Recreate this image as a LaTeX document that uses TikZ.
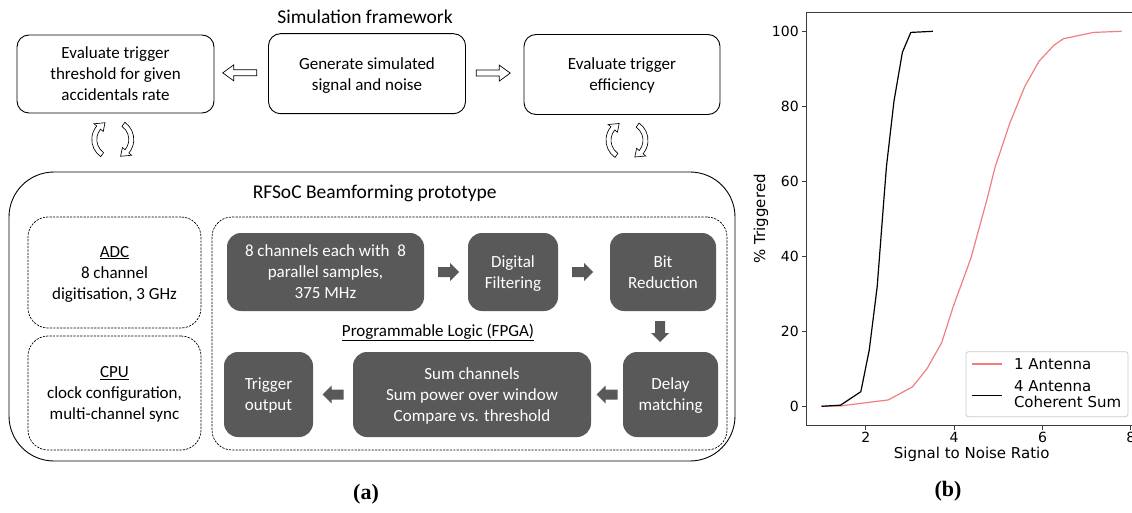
\documentclass[tikz,border=0pt]{standalone}
\usepackage{fontspec}
\setmainfont{Carlito}
\newfontfamily\plotfont{DejaVu Sans}
\newfontfamily\capfont{Liberation Serif}
\usetikzlibrary{calc}
\definecolor{boxdark}{RGB}{89,89,89}
\definecolor{redcurve}{RGB}{240,128,128}
\definecolor{spine}{RGB}{60,60,60}
\definecolor{legframe}{RGB}{204,204,204}

\tikzset{
  % filled block arrow used inside the FPGA chain
  pics/darrow/.style={code={
    \fill[boxdark] (-10.5,-5) -- (1.5,-5) -- (1.5,-9) -- (10.5,0) -- (1.5,9) -- (1.5,5) -- (-10.5,5) -- cycle;}},
  % hollow block arrow between the simulation boxes
  pics/harrow/.style={code={
    \draw[line width=0.7pt, fill=white, line join=miter]
      (-17,-3) -- (6,-3) -- (6,-8) -- (17,0) -- (6,8) -- (6,3) -- (-17,3) -- cycle;}},
  % pair of curved hollow arrows (exchange loop)
  pics/cyc/.style={code={
    \foreach \r in {0,180}{
      \begin{scope}[rotate=\r]
        \draw[line width=0.65pt, fill=white, line join=miter]
          (235:21pt) arc[start angle=235, end angle=140, radius=21pt]
          -- (140:24.5pt) -- (115:18.5pt) -- (140:12.5pt) -- (140:16pt)
          arc[start angle=140, end angle=235, radius=16pt] -- cycle;
      \end{scope}}}}
}

\begin{document}
\begin{tikzpicture}[x=1pt, y=-1pt,
  every node/.style={inner sep=0pt, outer sep=0pt},
  lbl/.style={font=\fontsize{17}{21}\selectfont, align=center, text depth=0pt},
  title/.style={font=\fontsize{19.5}{23}\selectfont},
  simbox/.style={draw, line width=0.9pt, rounded corners=12pt, lbl},
  dashbox/.style={draw, line width=0.7pt, dash pattern=on 2.2pt off 1.2pt, rounded corners=20pt, lbl},
  darkbox/.style={fill=boxdark, rounded corners=14pt, text=white, lbl},
  ticklbl/.style={font=\plotfont\fontsize{14}{16.5}\selectfont},
  axlbl/.style={font=\plotfont\fontsize{15}{16.3}\selectfont},
  caption/.style={font=\capfont\bfseries\fontsize{22}{26}\selectfont},
  curve/.style={line width=1.2pt, line join=round}]

\useasboundingbox (0,0) rectangle (1132,513);
\fill[white] (0,0) rectangle (1132,513);

% ---------------- simulation framework ----------------
\node[title] (simtitle) at (365,16.7) {Simulation framework};
\node[simbox, minimum width=197pt, minimum height=78pt] (thr) at (115.5,74)
  {Evaluate trigger\\threshold for given\\accidentals rate};
\node[simbox, minimum width=197pt, minimum height=80pt] (gen) at (367,73.7)
  {Generate simulated\\signal and noise};
\node[simbox, minimum width=196pt, minimum height=80pt] (eff) at (622,74.5)
  {Evaluate trigger\\efficiency};

\pic[rotate=180] at ($(thr.east)!0.5!(gen.west)+(-1.5,-1)$) {harrow};
\pic at ($(gen.east)!0.5!(eff.west)+(-1.5,-1)$) {harrow};

% ---------------- RFSoC prototype ----------------
\node[draw, line width=0.9pt, rounded corners=45pt, minimum width=726pt, minimum height=289pt] (rfsoc) at (372,316.5) {};
\node[title] (rftitle) at (374.7,193.3) {RFSoC Beamforming prototype};

\pic at ($(thr.south)!0.5!(thr.south |- rfsoc.north)+(-2.7,-3)$) {cyc};
\pic at ($(eff.south)!0.5!(eff.south |- rfsoc.north)+(5,-3)$) {cyc};

\node[dashbox, minimum width=173pt, minimum height=111pt] (adc) at (114.5,272.5)
  {\underline{ADC}\\8 channel\\digitisation, 3 GHz};
\node[dashbox, minimum width=173pt, minimum height=114pt] (cpu) at (114.5,393)
  {\underline{CPU}\\clock configuration,\\multi-channel sync};
\node[dashbox, minimum width=515pt, minimum height=233pt] (fpga) at (469.5,333.5) {};
\node[lbl] (fpgalbl) at (438,330) {\underline{Programmable Logic (FPGA)}};

\node[darkbox, minimum width=197pt, minimum height=78pt] (chan) at (325.5,272)
  {8 channels each with\ \ 8\\parallel samples,\\375 MHz};
\node[darkbox, minimum width=90pt, minimum height=78pt] (filt) at (513,272)
  {Digital\\Filtering};
\node[darkbox, minimum width=106pt, minimum height=78pt] (bitr) at (663,272)
  {Bit\\Reduction};
\node[darkbox, minimum width=95pt, minimum height=85pt] (delay) at (670.5,394.5)
  {Delay\\matching};
\node[darkbox, minimum width=238pt, minimum height=85pt] (sum) at (472,394.5)
  {Sum channels\\Sum power over window\\Compare vs. threshold};
\node[darkbox, minimum width=89pt, minimum height=85pt] (trig) at (268.5,394.5)
  {Trigger\\output};

\pic at ($(chan.east)!0.5!(filt.west)+(2.5,0)$) {darrow};
\pic at ($(filt.east)!0.5!(bitr.west)+(-1.5,0)$) {darrow};
\pic[rotate=-90] at ($(bitr.south)!0.5!(bitr.south |- delay.north)+(-3,0)$) {darrow};
\pic[rotate=180] at ($(delay.west)!0.5!(sum.east)$) {darrow};
\pic[rotate=180] at ($(sum.west)!0.5!(trig.east)$) {darrow};

\node[caption] (capa) at (366,494) {(a)};

% ---------------- trigger efficiency plot ----------------
\begin{scope}[shift={(777.3,406.3)}, x=44.2pt, y=3.75pt]
  \draw[redcurve, curve] plot coordinates {(1,0) (1.43,0.1) (2.51,1.7) (3.06,5.2) (3.39,10.1)
    (3.72,17) (3.98,26.6) (4.38,39.5) (4.74,55) (4.93,63.9) (5.26,75.5) (5.60,85.3)
    (5.92,92) (6.26,96.3) (6.47,98) (7.15,99.7) (7.79,100)};
  \draw[black, curve] plot coordinates {(1,0) (1.43,0.3) (1.89,3.9) (2.08,15) (2.26,31.9)
    (2.41,55) (2.47,64) (2.64,81.4) (2.83,94.4) (3.02,99.7) (3.52,100)};
  \draw[spine, line width=1pt] (8.4,105) -- (0.665,105) -- (0.665,-5) -- (8.4,-5);
  \foreach \v in {0,20,40,60,80,100}{
    \draw[spine, line width=0.9pt] (0.665,\v) -- ++(-5pt,0);
    \node[ticklbl, anchor=east, xshift=-8pt] (yt\v) at (0.665,\v) {\v};}
  \foreach \v in {2,4,6,8}{
    \draw[spine, line width=0.9pt] (\v,-5) -- ++(0,-5pt);
    \node[ticklbl, anchor=north, yshift=-7pt] (xt\v) at (\v,-5) {\v};}
\end{scope}

\node[axlbl, rotate=90] (ylab) at (761,218.8) {\% Triggered};
\node[axlbl] (xlab) at (971.7,454.5) {Signal to Noise Ratio};

\node[draw=legframe, fill=white, line width=0.8pt, rounded corners=2.5pt,
  minimum width=162pt, minimum height=65pt] (legend) at (1046.9,384.2) {};
\draw[redcurve, line width=1.2pt] (971.7,364) -- (1002.3,364);
\node[axlbl, anchor=west] (leg1) at (1014,364) {1 Antenna};
\draw[black, line width=1.2pt] (971.7,395.5) -- (1002.3,395.5);
\node[axlbl, anchor=west, align=left] (leg2) at (1014,394.2) {4 Antenna\\Coherent Sum};

\node[caption] (capb) at (948,491) {(b)};
\end{tikzpicture}
\end{document}
